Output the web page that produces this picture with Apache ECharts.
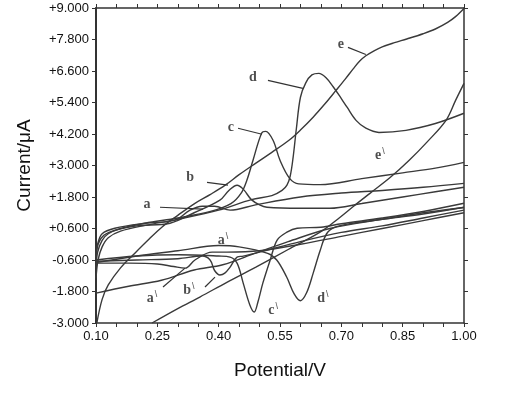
<!DOCTYPE html>
<html>
<head>
<meta charset="utf-8">
<script src="https://cdn.jsdelivr.net/npm/echarts@6/dist/echarts.min.js"></script>
<style>
html, body { margin: 0; padding: 0; background: #fff; }
#main { width: 512px; height: 396px; }
</style>
</head>
<body>
<div id="main"></div>
<script>
// tick positions / labels
var xTicks = [0.10, 0.15, 0.20, 0.25, 0.30, 0.35, 0.40, 0.45, 0.50, 0.55, 0.60, 0.65, 0.70, 0.75, 0.80, 0.85, 0.90, 0.95, 1.00];
var xTickLabels = [0.10, 0.25, 0.40, 0.55, 0.70, 0.85, 1.00];
var yTicks = [-3.0, -1.8, -0.6, 0.6, 1.8, 3.0, 4.2, 5.4, 6.6, 7.8, 9.0];

// curves: [potential V, current uA]
var eForward = [[0.102,-3.0],[0.115,-2.1],[0.13,-1.55],[0.16,-0.9],[0.195,-0.34],[0.23,0.2],[0.261,0.65],[0.30,1.1],[0.342,1.56],[0.38,1.9],[0.416,2.25],[0.45,2.65],[0.491,3.09],[0.53,3.5],[0.572,3.96],[0.60,4.35],[0.631,4.84],[0.66,5.35],[0.687,5.86],[0.71,6.3],[0.729,6.68],[0.745,6.98],[0.76,7.18],[0.78,7.37],[0.80,7.52],[0.83,7.68],[0.86,7.82],[0.90,8.02],[0.93,8.2],[0.96,8.45],[0.98,8.68],[1.0,8.98]];
var eReverse = [[1.0,6.13],[0.98,5.5],[0.956,4.72],[0.91,3.9],[0.866,3.2],[0.82,2.55],[0.77,1.94],[0.73,1.45],[0.697,1.03],[0.648,0.46],[0.57,-0.2],[0.491,-0.87],[0.42,-1.45],[0.354,-2.01],[0.30,-2.45],[0.237,-3.0]];
var dForward = [[0.10,-1.3],[0.105,-0.6],[0.115,-0.1],[0.13,0.25],[0.16,0.5],[0.22,0.72],[0.30,0.95],[0.40,1.3],[0.48,1.7],[0.53,1.85],[0.555,2.05],[0.567,2.25],[0.575,2.6],[0.582,3.3],[0.590,4.4],[0.600,5.6],[0.613,6.15],[0.628,6.45],[0.645,6.51],[0.662,6.35],[0.68,6.0],[0.70,5.55],[0.714,5.22],[0.736,4.72],[0.76,4.42],[0.792,4.26],[0.858,4.34],[0.93,4.6],[1.0,4.99]];
var dReverse = [[1.0,1.41],[0.9,1.15],[0.8,0.95],[0.72,0.78],[0.685,0.65],[0.664,0.4],[0.648,-0.25],[0.631,-1.11],[0.615,-1.85],[0.60,-2.15],[0.585,-1.9],[0.566,-1.24],[0.542,-0.6],[0.52,-0.35],[0.45,-0.1],[0.40,-0.05],[0.30,-0.25],[0.20,-0.45],[0.10,-0.7]];
var cForward = [[0.10,-0.9],[0.104,-0.3],[0.115,0.15],[0.13,0.4],[0.16,0.6],[0.22,0.8],[0.30,1.0],[0.38,1.25],[0.43,1.55],[0.455,1.95],[0.469,2.44],[0.484,3.2],[0.505,4.23],[0.515,4.3],[0.533,3.96],[0.55,3.2],[0.574,2.5],[0.596,2.3],[0.648,2.27],[0.75,2.5],[0.85,2.72],[0.93,2.9],[1.0,3.12]];
var cReverse = [[1.0,1.56],[0.9,1.25],[0.8,1.0],[0.70,0.78],[0.65,0.65],[0.592,0.61],[0.567,0.46],[0.543,0.16],[0.526,-0.6],[0.508,-1.48],[0.496,-2.2],[0.487,-2.58],[0.476,-2.3],[0.46,-1.48],[0.445,-0.72],[0.428,-0.49],[0.40,-0.45],[0.30,-0.4],[0.20,-0.45],[0.10,-0.6]];
var bForward = [[0.10,-0.6],[0.105,0.0],[0.12,0.35],[0.15,0.55],[0.20,0.7],[0.281,0.80],[0.34,1.2],[0.403,1.68],[0.425,2.05],[0.445,2.25],[0.46,2.1],[0.48,1.7],[0.50,1.5],[0.518,1.41],[0.60,1.37],[0.672,1.37],[0.75,1.55],[0.85,1.8],[0.93,2.0],[1.0,2.17]];
var bReverse = [[1.0,1.3],[0.9,1.0],[0.8,0.7],[0.7,0.45],[0.6,0.1],[0.5,-0.3],[0.46,-0.45],[0.445,-0.49],[0.428,-0.87],[0.415,-1.1],[0.403,-1.17],[0.39,-1.0],[0.379,-0.6],[0.36,-0.45],[0.30,-0.55],[0.20,-0.6],[0.10,-0.65]];
var aForward = [[0.10,-0.5],[0.104,0.0],[0.115,0.4],[0.146,0.61],[0.22,0.8],[0.293,0.92],[0.33,1.3],[0.36,1.45],[0.39,1.45],[0.428,1.3],[0.49,1.5],[0.6,1.8],[0.7,1.95],[0.8,2.05],[0.9,2.17],[1.0,2.32]];
var aReverse = [[1.0,1.2],[0.9,0.9],[0.8,0.6],[0.7,0.3],[0.6,0.0],[0.5,-0.25],[0.42,-0.3],[0.384,-0.30],[0.342,-0.6],[0.318,-0.91],[0.29,-0.85],[0.25,-0.75],[0.18,-0.72],[0.10,-0.72]];
var baseLine = [[0.10,-1.86],[0.18,-1.6],[0.26,-1.37],[0.34,-0.98],[0.41,-0.78],[0.49,-0.34],[0.57,0.1],[0.672,0.6],[0.8,0.95],[0.9,1.2],[1.0,1.4]];

// curve labels and their leader lines
var labelText = ['a', 'b', 'c', 'd', 'e', "e'", "a'", "a'", "b'", "c'", "d'"];
var labelPos = [[0.225,1.53],[0.330,2.55],[0.430,4.45],[0.484,6.36],[0.699,7.61],[0.7945,3.39],[0.4106,0.16],[0.237,-2.05],[0.327,-1.75],[0.533,-2.51],[0.655,-2.05]];
var leaders = [
  [[0.2565,1.41],[0.3617,1.34]],
  [[0.3715,2.36],[0.4228,2.25]],
  [[0.4473,4.42],[0.506,4.19]],
  [[0.5206,6.24],[0.606,5.94]],
  [[0.7163,7.50],[0.760,7.23]],
  [[0.2639,-1.63],[0.3177,-0.91]],
  [[0.3666,-1.63],[0.391,-1.25]]
];

var curves = [eForward, eReverse, dForward, dReverse, cForward, cReverse, bForward, bReverse, aForward, aReverse, baseLine];

var myChart = echarts.init(document.getElementById('main'));

var axisCommon = {
  type: 'value',
  axisLine: { show: true, onZero: false, lineStyle: { color: '#333', width: 1.5 } },
  splitLine: { show: false }
};

var series = [];
curves.forEach(function (c) {
  series.push({
    type: 'line', data: c, showSymbol: false, smooth: 0.35, silent: true,
    lineStyle: { color: '#3a3a3a', width: 1.4 }
  });
});
leaders.forEach(function (l) {
  series.push({
    type: 'line', data: l, showSymbol: false, silent: true,
    lineStyle: { color: '#333', width: 1.2 }
  });
});
series.push({
  type: 'scatter', symbolSize: 0, silent: true,
  data: labelPos.map(function (p, i) { return [p[0], p[1], labelText[i]]; }),
  label: {
    show: true, position: 'inside',
    formatter: function (p) {
      var t = p.value[2];
      if (t.length > 1) return '{m|' + t[0] + '}{s|\\}';
      return '{m|' + t + '}';
    },
    rich: {
      m: { fontFamily: 'Liberation Serif', fontWeight: 'bold', fontSize: 14, color: '#222' },
      s: { fontFamily: 'Liberation Sans', fontSize: 9, color: '#222', padding: [0, 0, 8, 1] }
    }
  }
});

myChart.setOption({
  animation: false,
  grid: { left: 96, right: 48, top: 8, bottom: 73 },
  xAxis: [
    Object.assign({}, axisCommon, {
      min: 0.1, max: 1.0,
      name: 'Potential/V', nameLocation: 'middle', nameGap: 38,
      nameTextStyle: { fontFamily: 'Liberation Sans', fontSize: 19, color: '#111' },
      axisTick: { show: true, length: 4, customValues: xTicks, lineStyle: { color: '#333' } },
      axisLabel: { customValues: xTickLabels, formatter: function (v) { return v.toFixed(2); },
        fontFamily: 'Liberation Sans', fontSize: 13, color: '#111', margin: 7 }
    }),
    Object.assign({}, axisCommon, {
      min: 0.1, max: 1.0, position: 'top',
      axisTick: { show: true, length: 4, customValues: xTicks, lineStyle: { color: '#333' } },
      axisLabel: { show: false }
    })
  ],
  yAxis: [
    Object.assign({}, axisCommon, {
      min: -3, max: 9,
      name: 'Current/\u03bcA', nameLocation: 'middle', nameGap: 62,
      nameTextStyle: { fontFamily: 'Liberation Sans', fontSize: 19, color: '#111' },
      axisLine: { show: true, onZero: false, lineStyle: { color: '#333', width: 2 } },
      axisTick: { show: true, length: 4, customValues: yTicks, lineStyle: { color: '#333' } },
      axisLabel: { customValues: yTicks,
        formatter: function (v) { return (v > 0 ? '+' : '') + v.toFixed(3); },
        fontFamily: 'Liberation Sans', fontSize: 13, color: '#111', margin: 7 }
    }),
    Object.assign({}, axisCommon, {
      min: -3, max: 9, position: 'right',
      axisTick: { show: true, length: 4, customValues: yTicks, lineStyle: { color: '#333' } },
      axisLabel: { show: false }
    })
  ],
  series: series
});
</script>
</body>
</html>
